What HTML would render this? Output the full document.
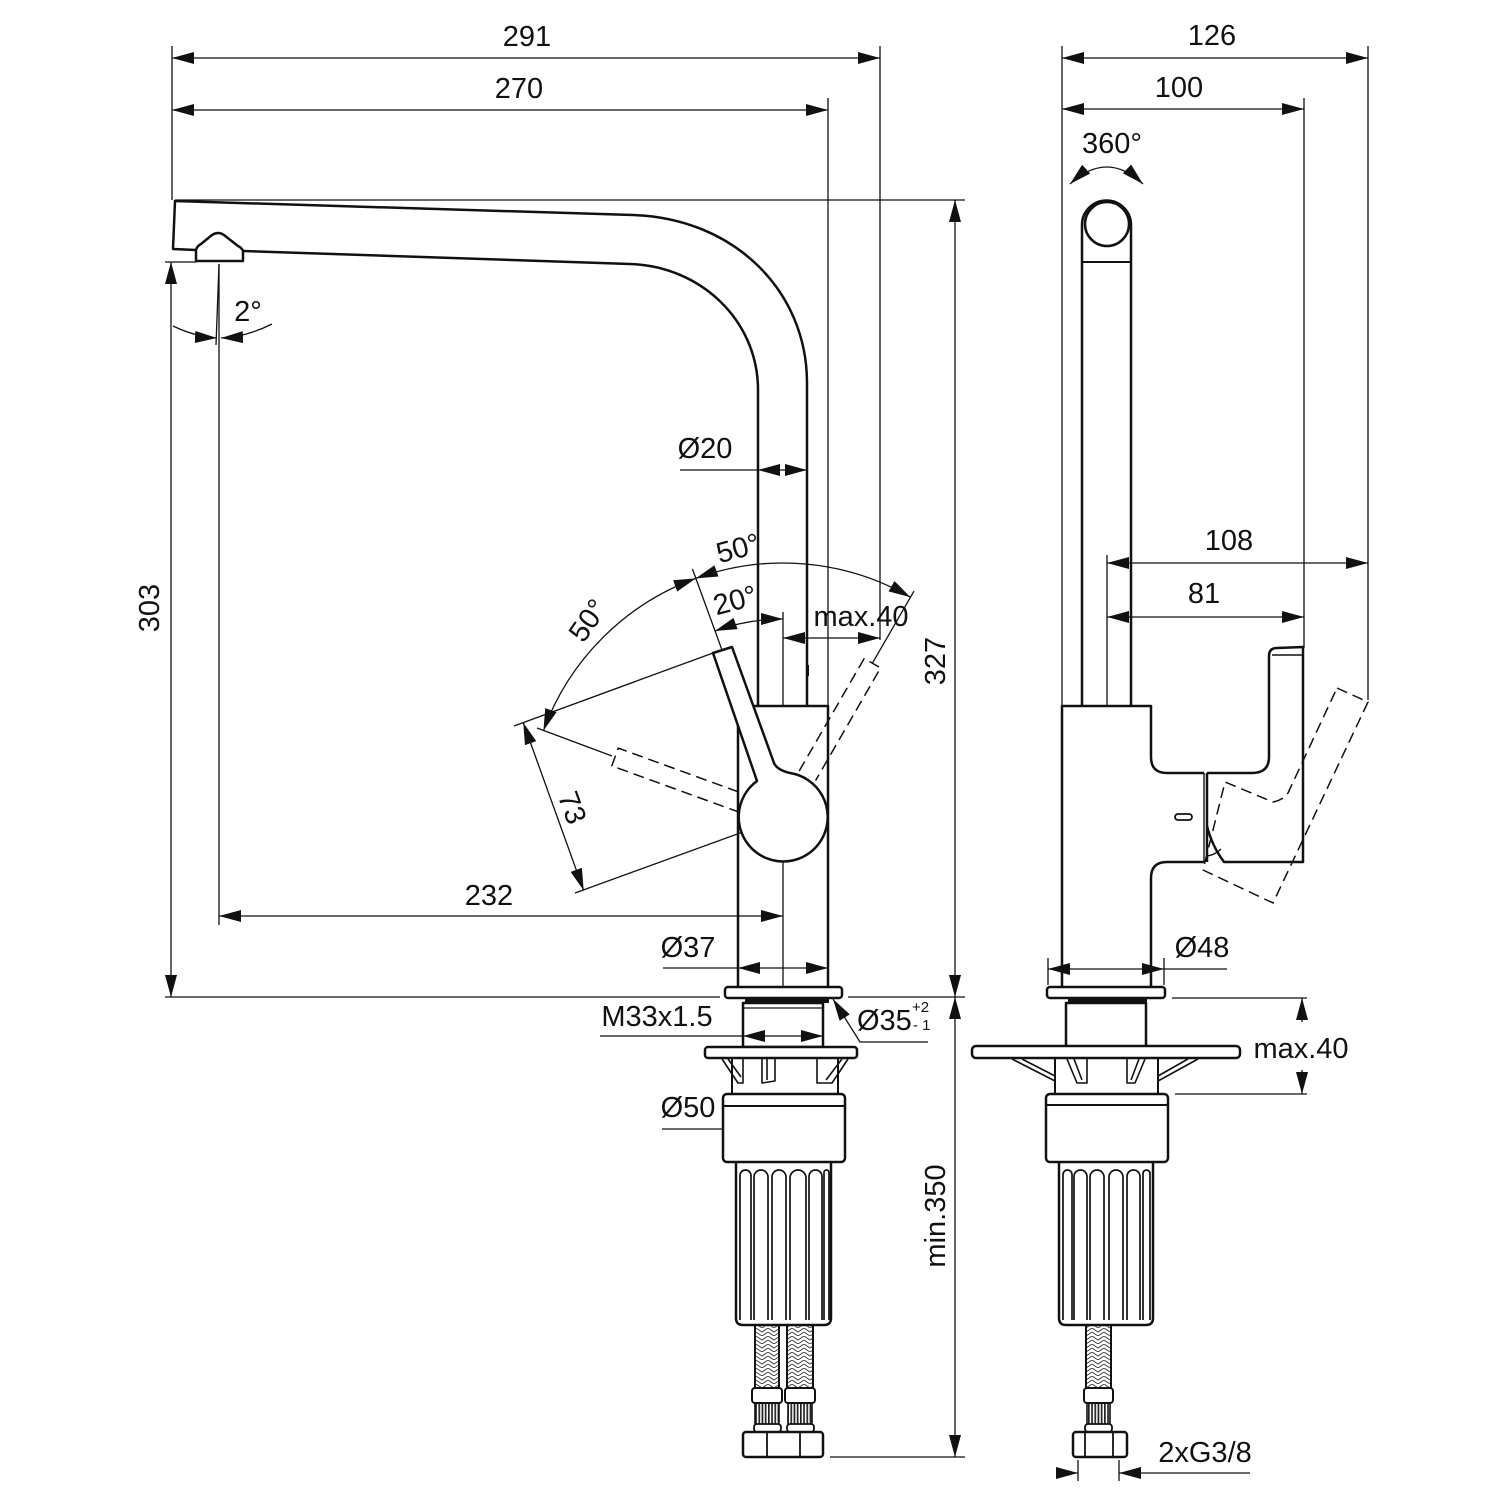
<!DOCTYPE html>
<html><head><meta charset="utf-8"><style>
html,body{margin:0;padding:0;background:#fff;}
svg{display:block;}
text{font-family:"Liberation Sans",Arial,sans-serif;font-size:29px;fill:#111;stroke:none;}
</style></head><body>
<svg width="1500" height="1500" viewBox="0 0 1500 1500" xmlns="http://www.w3.org/2000/svg">
<defs>
<marker id="a" viewBox="0 0 22 12" refX="22" refY="6" markerWidth="22" markerHeight="12" orient="auto-start-reverse" markerUnits="userSpaceOnUse"><path d="M0,0L22,6L0,12z" fill="#111"/></marker>
<pattern id="br" width="12" height="8" patternUnits="userSpaceOnUse"><path d="M0,0L6,4L12,0M0,4L6,8L12,4" fill="none" stroke="#444" stroke-width="1"/></pattern>
<pattern id="th" width="3.2" height="10" patternUnits="userSpaceOnUse"><rect x="0" y="0" width="1.7" height="10" fill="#222"/></pattern>
</defs>
<rect width="1500" height="1500" fill="#fff"/>

<!-- ================= THIN DIMENSION LINES ================= -->
<g fill="none" stroke="#111" stroke-width="1.3">
<!-- left view top dims -->
<line x1="172" y1="58" x2="880" y2="58" marker-start="url(#a)" marker-end="url(#a)"/>
<line x1="172" y1="110" x2="828" y2="110" marker-start="url(#a)" marker-end="url(#a)"/>
<line x1="172" y1="46" x2="172" y2="200"/>
<line x1="880" y1="46" x2="880" y2="640"/>
<line x1="828" y1="98" x2="828" y2="706"/>
<line x1="175" y1="200" x2="965" y2="200"/>
<!-- 327 / min.350 -->
<line x1="955" y1="200" x2="955" y2="997" marker-start="url(#a)" marker-end="url(#a)"/>
<line x1="955" y1="997" x2="955" y2="1457" marker-start="url(#a)" marker-end="url(#a)"/>
<line x1="165" y1="997" x2="720" y2="997"/>
<line x1="848" y1="997" x2="965" y2="997"/>
<line x1="830" y1="1457" x2="965" y2="1457"/>
<!-- 303 -->
<line x1="171" y1="262" x2="171" y2="997" marker-start="url(#a)" marker-end="url(#a)"/>
<line x1="165" y1="262" x2="196" y2="262"/>
<!-- aerator axis & 2 deg -->
<line x1="219" y1="264" x2="219" y2="925"/>
<line x1="219" y1="264" x2="216" y2="345"/>
<path d="M173,326 Q196,337 217,338" marker-end="url(#a)"/>
<path d="M272,324 Q246,337 221,338" marker-end="url(#a)"/>
<!-- 232 -->
<line x1="219" y1="916" x2="783" y2="916" marker-start="url(#a)" marker-end="url(#a)"/>
<line x1="783" y1="612" x2="783" y2="705"/>
<line x1="783" y1="862" x2="783" y2="987"/>
<!-- O37 -->
<line x1="663" y1="968" x2="738" y2="968"/>
<line x1="738" y1="968" x2="828" y2="968" marker-start="url(#a)" marker-end="url(#a)"/>
<!-- O20 -->
<line x1="680" y1="470" x2="758" y2="470"/>
<line x1="758" y1="470" x2="807" y2="470" marker-start="url(#a)" marker-end="url(#a)"/>
<!-- max.40 left -->
<line x1="783" y1="638" x2="880" y2="638" marker-start="url(#a)" marker-end="url(#a)"/>
<!-- M33 -->
<line x1="600" y1="1036" x2="743" y2="1036"/>
<line x1="743" y1="1036" x2="823" y2="1036" marker-start="url(#a)" marker-end="url(#a)"/>
<!-- O35 leader -->
<path d="M928,1042 L860,1042 L833,999" marker-end="url(#a)"/>
<!-- O50 -->
<line x1="662" y1="1129" x2="723" y2="1129"/>
<line x1="723" y1="1129" x2="845" y2="1129" marker-start="url(#a)" marker-end="url(#a)"/>
<!-- angle arcs -->
<path d="M695.8,578.4 A255,255 0 0 1 910.5,597.2" marker-start="url(#a)" marker-end="url(#a)"/>
<path d="M543.4,730.8 A255,255 0 0 1 695.8,578.4" marker-start="url(#a)" marker-end="url(#a)"/>
<path d="M714.9,631 A199,199 0 0 1 783,619" marker-start="url(#a)" marker-end="url(#a)"/>
<line x1="722" y1="650" x2="692.4" y2="568.9"/>
<line x1="872.4" y1="663.2" x2="914" y2="591.1"/>
<line x1="612" y1="756" x2="537" y2="728"/>
<!-- 73 -->
<line x1="713" y1="653" x2="514" y2="726"/>
<line x1="787" y1="816" x2="575" y2="893"/>
<line x1="523.2" y1="722.5" x2="583.7" y2="890.5" marker-start="url(#a)" marker-end="url(#a)"/>

<!-- right view dims -->
<line x1="1062" y1="58" x2="1368" y2="58" marker-start="url(#a)" marker-end="url(#a)"/>
<line x1="1062" y1="109" x2="1304" y2="109" marker-start="url(#a)" marker-end="url(#a)"/>
<line x1="1062" y1="46" x2="1062" y2="706"/>
<line x1="1304" y1="98" x2="1304" y2="648"/>
<line x1="1368" y1="46" x2="1368" y2="700"/>
<line x1="1107" y1="563" x2="1368" y2="563" marker-start="url(#a)" marker-end="url(#a)"/>
<line x1="1107" y1="617" x2="1304" y2="617" marker-start="url(#a)" marker-end="url(#a)"/>
<line x1="1107" y1="555" x2="1107" y2="706"/>
<path d="M1070,184 Q1107,150 1143,184" marker-start="url(#a)" marker-end="url(#a)"/>
<!-- O48 -->
<line x1="1048" y1="969" x2="1164" y2="969" marker-start="url(#a)" marker-end="url(#a)"/>
<line x1="1164" y1="969" x2="1227" y2="969"/>
<line x1="1048" y1="958" x2="1048" y2="985"/>
<line x1="1164" y1="958" x2="1164" y2="985"/>
<!-- max.40 right -->
<line x1="1172" y1="998" x2="1307" y2="998"/>
<line x1="1175" y1="1094" x2="1307" y2="1094"/>
<line x1="1302" y1="1022" x2="1302" y2="998" marker-end="url(#a)"/>
<line x1="1302" y1="1070" x2="1302" y2="1094" marker-end="url(#a)"/>
<!-- 2xG3/8 -->
<line x1="1056" y1="1473" x2="1078" y2="1473" marker-end="url(#a)"/>
<line x1="1250" y1="1473" x2="1119" y2="1473" marker-end="url(#a)"/>
<line x1="1078" y1="1460" x2="1078" y2="1481"/>
<line x1="1119" y1="1460" x2="1119" y2="1481"/>
</g>

<!-- ================= LEFT VIEW OUTLINES ================= -->
<g fill="none" stroke="#111" stroke-width="2.5" stroke-linejoin="round">
<path d="M196,250 L173,249 L175,201 L633,215 C733,218 807,290 807,383 L807,706"/>
<path d="M243,251 L630,264 C700,266 758,320 758,390 L758,706"/>
<path d="M196,261 L196,250 Q197,246 201,244 L212,235 Q218,231 224,235 L238,246 Q242,248 243,251 L243,261 Z" fill="#fff"/>
<!-- body -->
<path d="M738,722 L738,987"/>
<path d="M753.5,706 L828,706 L828,987"/>
<!-- dashed levers -->
<g stroke-width="1.5" stroke-dasharray="11,6">
<path d="M738.5,791.9 L618.2,748.1 L611.8,765.9 L738.7,812"/>
<path d="M799.2,771 L864.2,658.5 L880.6,667.9 L815.6,780.5"/>
</g>
<!-- lever -->
<path d="M713,653 L757,781 A44.5,44.5 0 1 0 790,773 Q777,770 774,763 L732,647 Z" fill="#fff"/>
<!-- flange & base -->
<rect x="725" y="987" width="117" height="11" rx="3" fill="#fff"/>
<rect x="745" y="998" width="84" height="5" fill="#111" stroke="none"/>
<rect x="743" y="1003" width="80" height="44"/>
<line x1="743" y1="1008" x2="823" y2="1008" stroke-width="1.2"/>
<rect x="705" y="1047" width="152" height="11" rx="3" fill="#fff"/>
<path d="M732,1058 L732,1094 M838,1058 L838,1094" stroke-width="2"/>
<path d="M722,1059 L738,1083 L743,1083 L743,1059 M728,1059 L741,1077" stroke-width="1.6"/>
<path d="M762,1059 L762,1083 L775,1081 L775,1059 M767,1059 L767,1080" stroke-width="1.6"/>
<path d="M848,1059 L832,1083 L817,1083 L817,1059 M842,1059 L826,1080" stroke-width="1.6"/>
<rect x="723" y="1094" width="122" height="68" rx="4" fill="#fff"/>
<line x1="723" y1="1106" x2="845" y2="1106" stroke-width="2"/>
<!-- ribbed body -->
<path d="M736,1163 L736,1318 Q736,1325 743,1325 L824,1325 Q831,1325 831,1318 L831,1163"/>
<g stroke-width="1.7">
<path d="M740,1320 L740,1175.5 A5.5,5.5 0 0 1 751,1175.5 L751,1320"/>
<path d="M754,1320 L754,1177 A7,7 0 0 1 768,1177 L768,1320"/>
<path d="M772,1320 L772,1177 A7,7 0 0 1 786,1177 L786,1320"/>
<path d="M790,1320 L790,1178 A8,8 0 0 1 806,1178 L806,1320"/>
<path d="M809,1320 L809,1176.5 A6.5,6.5 0 0 1 822,1176.5 L822,1320"/>
<path d="M824,1320 L824,1172.5 A2.5,2.5 0 0 1 829,1172.5 L829,1320"/>
</g>
<!-- hoses -->
<rect x="755" y="1325" width="24" height="63" fill="url(#br)" stroke-width="2"/>
<rect x="787" y="1325" width="26" height="63" fill="url(#br)" stroke-width="2"/>
<rect x="752" y="1388" width="30" height="15" rx="3" fill="#fff" stroke-width="2"/>
<rect x="785" y="1388" width="30" height="15" rx="3" fill="#fff" stroke-width="2"/>
<rect x="755" y="1403" width="24" height="22" fill="url(#th)" stroke-width="1.6"/>
<rect x="788" y="1403" width="24" height="22" fill="url(#th)" stroke-width="1.6"/>
<rect x="754" y="1424" width="27" height="8" rx="3" fill="#fff" stroke-width="1.8"/>
<rect x="787" y="1424" width="27" height="8" rx="3" fill="#fff" stroke-width="1.8"/>
<rect x="743" y="1432" width="80" height="25" rx="3" fill="#fff"/>
<path d="M767,1432 L767,1457 M800,1432 L800,1457" stroke-width="1.8"/>
</g>
<rect x="806" y="665" width="3" height="11" fill="#111"/>

<!-- ================= RIGHT VIEW OUTLINES ================= -->
<g fill="none" stroke="#111" stroke-width="2.5" stroke-linejoin="round">
<path d="M1082,706 L1082,225 A24.5,24.5 0 0 1 1131,225 L1131,706"/>
<circle cx="1107" cy="224" r="22"/>
<line x1="1082" y1="262" x2="1131" y2="262" stroke-width="2"/>
<path d="M1062,987 L1062,706 L1151,706 L1151,757 Q1151,773 1167,773 L1204,773"/>
<path d="M1207,773 L1252,773 Q1269,773 1269,757 L1269,656 Q1269,648 1277,648 L1303,647 L1303,862 L1224,862 Q1212,846 1207,826"/>
<line x1="1207" y1="773" x2="1207" y2="862"/>
<line x1="1204" y1="773" x2="1204" y2="862" stroke-width="1.4"/>
<path d="M1204,862 L1167,862 Q1151,862 1151,878 L1151,987"/>
<path d="M1207,856 Q1215,855 1221,849" stroke-width="1.4"/>
<line x1="1272" y1="655" x2="1303" y2="655" stroke-width="1.4"/>
<rect x="1175" y="814" width="17" height="6" rx="3" stroke-width="1.8"/>
<path d="M1337,688 L1368,702 L1273,903 L1203,870 L1225,782 L1273,802 Q1283,800 1288,793 Z" stroke-width="1.5" stroke-dasharray="11,6"/>
<!-- base -->
<rect x="1047" y="987" width="118" height="11" rx="3" fill="#fff"/>
<rect x="1068" y="998" width="79" height="5" fill="#111" stroke="none"/>
<rect x="1066" y="1003" width="80" height="44"/>
<rect x="972" y="1046" width="268" height="12" rx="4" fill="#fff"/>
<path d="M1055,1058 L1055,1094 M1158,1058 L1158,1094" stroke-width="2"/>
<path d="M1012,1059 L1055,1081 M1022,1059 L1055,1076" stroke-width="1.6"/>
<path d="M1198,1059 L1158,1081 M1188,1059 L1158,1076" stroke-width="1.6"/>
<path d="M1067,1059 L1077,1083 L1087,1083 L1087,1059 M1074,1059 L1082,1080" stroke-width="1.6"/>
<path d="M1145,1059 L1135,1083 L1127,1083 L1127,1059 M1139,1059 L1131,1080" stroke-width="1.6"/>
<rect x="1046" y="1094" width="122" height="68" rx="4" fill="#fff"/>
<line x1="1046" y1="1105" x2="1168" y2="1105" stroke-width="2"/>
<path d="M1059,1163 L1059,1318 Q1059,1325 1066,1325 L1146,1325 Q1153,1325 1153,1318 L1153,1163"/>
<g stroke-width="1.7">
<path d="M1063,1320 L1063,1174.5 A4.5,4.5 0 0 1 1072,1174.5 L1072,1320"/>
<path d="M1074,1320 L1074,1176.5 A6.5,6.5 0 0 1 1087,1176.5 L1087,1320"/>
<path d="M1090,1320 L1090,1177 A7,7 0 0 1 1104,1177 L1104,1320"/>
<path d="M1109,1320 L1109,1177 A7,7 0 0 1 1123,1177 L1123,1320"/>
<path d="M1127,1320 L1127,1176.5 A6.5,6.5 0 0 1 1140,1176.5 L1140,1320"/>
<path d="M1143,1320 L1143,1173.5 A3.5,3.5 0 0 1 1150,1173.5 L1150,1320"/>
</g>
<rect x="1086" y="1325" width="25" height="63" fill="url(#br)" stroke-width="2"/>
<rect x="1084" y="1388" width="29" height="15" rx="3" fill="#fff" stroke-width="2"/>
<rect x="1087" y="1403" width="23" height="22" fill="url(#th)" stroke-width="1.6"/>
<rect x="1085" y="1424" width="27" height="8" rx="3" fill="#fff" stroke-width="1.8"/>
<rect x="1073" y="1432" width="54" height="25" rx="3" fill="#fff"/>
<path d="M1085,1432 L1085,1457 M1113,1432 L1113,1457" stroke-width="1.8"/>
</g>

<!-- ================= TEXT ================= -->
<text x="527" y="46" text-anchor="middle">291</text>
<text x="519" y="98" text-anchor="middle">270</text>
<text x="1212" y="45" text-anchor="middle">126</text>
<text x="1179" y="97" text-anchor="middle">100</text>
<text x="1112" y="153" text-anchor="middle">360°</text>
<text x="1229" y="550" text-anchor="middle">108</text>
<text x="1204" y="603" text-anchor="middle">81</text>
<text x="705" y="458" text-anchor="middle">Ø20</text>
<text x="740.6" y="557.7" text-anchor="middle" transform="rotate(-15 740.6 557.7)">50°</text>
<text x="737.6" y="609.7" text-anchor="middle" transform="rotate(-15 737.6 609.7)">20°</text>
<text x="596" y="626" text-anchor="middle" transform="rotate(-55 596 626)">50°</text>
<text x="861" y="626" text-anchor="middle">max.40</text>
<text x="248" y="321" text-anchor="middle">2°</text>
<text x="159" y="608" text-anchor="middle" transform="rotate(-90 159 608)">303</text>
<text x="945" y="661" text-anchor="middle" transform="rotate(-90 945 661)">327</text>
<text x="945" y="1216" text-anchor="middle" transform="rotate(-90 945 1216)">min.350</text>
<text x="563" y="811" text-anchor="middle" transform="rotate(70 563 811)">73</text>
<text x="489" y="905" text-anchor="middle">232</text>
<text x="688" y="957" text-anchor="middle">Ø37</text>
<text x="657" y="1026" text-anchor="middle">M33x1.5</text>
<text x="857" y="1030">Ø35</text>
<text x="912" y="1012" style="font-size:15px">+2</text>
<text x="913" y="1030" style="font-size:15px">- 1</text>
<text x="688" y="1117" text-anchor="middle">Ø50</text>
<text x="1202" y="957" text-anchor="middle">Ø48</text>
<text x="1301" y="1058" text-anchor="middle">max.40</text>
<text x="1205" y="1462" text-anchor="middle">2xG3/8</text>
</svg>
</body></html>
